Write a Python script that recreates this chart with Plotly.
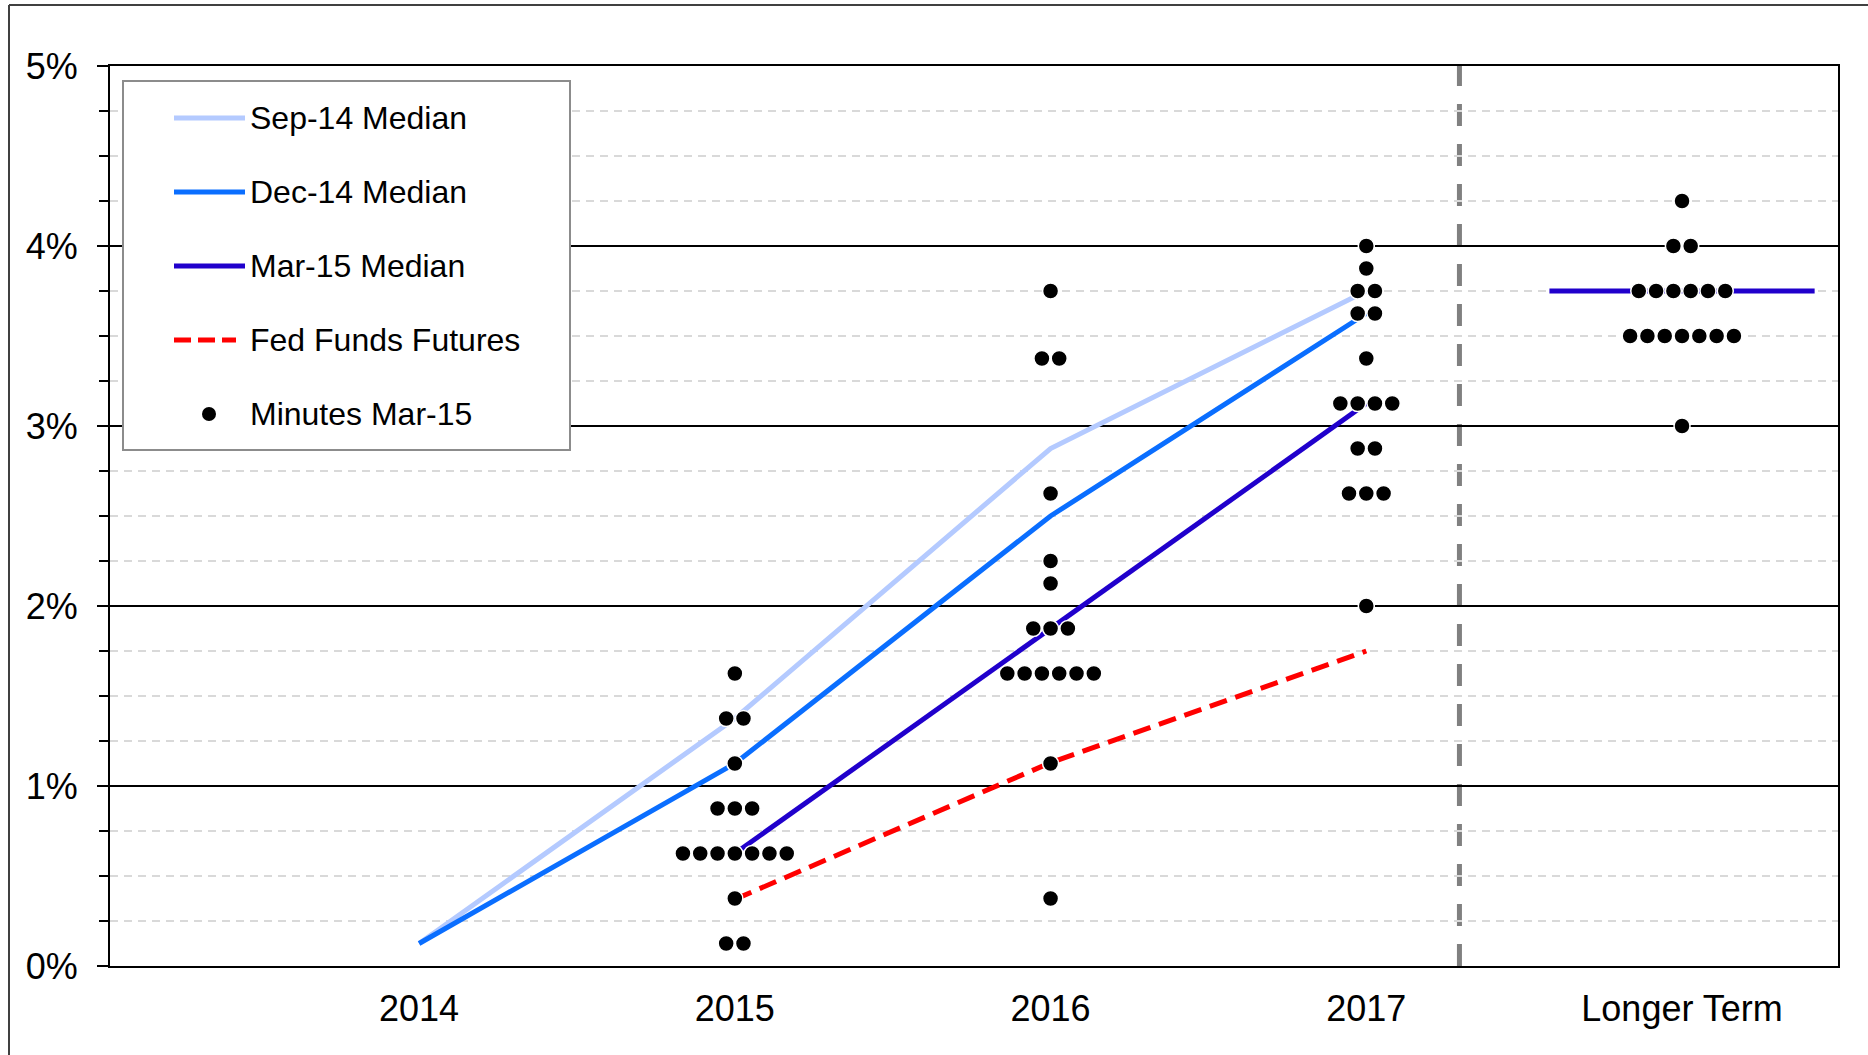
import plotly.graph_objects as go

# ---------------- data ----------------
categories = ["2014", "2015", "2016", "2017", "Longer Term"]

sep14_median = [0.125, 1.375, 2.875, 3.75]          # 2014..2017
dec14_median = [0.125, 1.125, 2.5, 3.625]           # 2014..2017
mar15_median = [0.625, 1.875, 3.125]                # 2015..2017
mar15_median_lt = 3.75                              # Longer Term
fed_funds_futures = [0.37, 1.13, 1.75]              # 2015..2017

# Dot plot (Minutes Mar-15): rate level -> number of participants
dots_2015 = {0.125: 2, 0.375: 1, 0.625: 7, 0.875: 3, 1.125: 1, 1.375: 2, 1.625: 1}
dots_2016 = {0.375: 1, 1.125: 1, 1.625: 6, 1.875: 3, 2.125: 1, 2.25: 1,
             2.625: 1, 3.375: 2, 3.75: 1}
dots_2017 = {2.0: 1, 2.625: 3, 2.875: 2, 3.125: 4, 3.375: 1, 3.625: 2,
             3.75: 2, 3.875: 1, 4.0: 1}
dots_lt = {3.0: 1, 3.5: 7, 3.75: 6, 4.0: 2, 4.25: 1}
dot_sets = [("2015", dots_2015), ("2016", dots_2016), ("2017", dots_2017),
            ("Longer Term", dots_lt)]

y_ticks = [0, 1, 2, 3, 4, 5]

# ---------------- layout constants ----------------
W, H = 1868, 1055
ML, MR, MT, MB = 110, 30, 66, 89
PW, PH = W - ML - MR, H - MT - MB
DOT_STEP = 0.0548        # horizontal spacing between stacked dots (category units)
LT_HALF = 0.42           # half-width of the longer-term median bar
DIVIDER_X = 3.295        # position of the dashed divider

FONT = "Arial, 'Liberation Sans', sans-serif"
C_SEP = "#B4CAFF"
C_DEC = "#0A6EFF"
C_MAR = "#2000CC"
C_RED = "#FF0000"


def px_x(p):
    return (p - ML) / PW


def px_y(p):
    return (H - MB - p) / PH


idx = {c: i for i, c in enumerate(categories)}

fig = go.Figure()

fig.add_trace(go.Scatter(x=[idx[c] for c in categories[:4]], y=sep14_median,
                         mode="lines", name="Sep-14 Median",
                         line=dict(color=C_SEP, width=5), showlegend=False))
fig.add_trace(go.Scatter(x=[idx[c] for c in categories[:4]], y=dec14_median,
                         mode="lines", name="Dec-14 Median",
                         line=dict(color=C_DEC, width=5), showlegend=False))
fig.add_trace(go.Scatter(x=[idx[c] for c in categories[1:4]], y=mar15_median,
                         mode="lines", name="Mar-15 Median",
                         line=dict(color=C_MAR, width=5), showlegend=False))
lt = idx["Longer Term"]
fig.add_trace(go.Scatter(x=[lt - LT_HALF, lt + LT_HALF],
                         y=[mar15_median_lt, mar15_median_lt],
                         mode="lines", name="Mar-15 Median",
                         line=dict(color=C_MAR, width=5), showlegend=False))
fig.add_trace(go.Scatter(x=[idx[c] for c in categories[1:4]], y=fed_funds_futures,
                         mode="lines", name="Fed Funds Futures",
                         line=dict(color=C_RED, width=5, dash="18px,9px"),
                         showlegend=False))

dx, dy = [], []
for cat, d in dot_sets:
    for level, n in d.items():
        for i in range(n):
            dx.append(idx[cat] + (i - (n - 1) / 2) * DOT_STEP)
            dy.append(level)
fig.add_trace(go.Scatter(x=dx, y=dy, mode="markers", name="Minutes Mar-15",
                         marker=dict(color="black", size=16,
                                     line=dict(color="white", width=1.5)),
                         showlegend=False))

shapes = []
# dashed divider between 2017 and Longer Term
shapes.append(dict(type="line", xref="x", yref="paper", x0=DIVIDER_X, x1=DIVIDER_X,
                   y0=0, y1=1, layer="between",
                   line=dict(color="#808080", width=5, dash="22px,18px")))
# outer frame (left and top edges)
shapes.append(dict(type="line", xref="paper", yref="paper",
                   x0=px_x(9), x1=px_x(9), y0=px_y(5), y1=px_y(H + 5),
                   line=dict(color="#404040", width=2)))
shapes.append(dict(type="line", xref="paper", yref="paper",
                   x0=px_x(9), x1=px_x(W + 5), y0=px_y(5), y1=px_y(5),
                   line=dict(color="#404040", width=2)))

# manual legend
shapes.append(dict(type="rect", xref="paper", yref="paper", layer="above",
                   x0=px_x(123), x1=px_x(570), y0=px_y(450), y1=px_y(81),
                   fillcolor="white", line=dict(color="#8C8C8C", width=2)))
legend_items = [("Sep-14 Median", C_SEP, "solid"),
                ("Dec-14 Median", C_DEC, "solid"),
                ("Mar-15 Median", C_MAR, "solid"),
                ("Fed Funds Futures", C_RED, "17px,7px"),
                ("Minutes Mar-15", None, None)]
annotations = []
for k, (label, col, dash) in enumerate(legend_items):
    yc = 118 + 74 * k
    if col is not None:
        x_end = 245 if dash == "solid" else 236
        shapes.append(dict(type="line", xref="paper", yref="paper", layer="above",
                           x0=px_x(174), x1=px_x(x_end), y0=px_y(yc), y1=px_y(yc),
                           line=dict(color=col, width=5, dash=dash)))
    else:
        shapes.append(dict(type="circle", xref="paper", yref="paper", layer="above",
                           x0=px_x(202), x1=px_x(216), y0=px_y(yc + 7), y1=px_y(yc - 7),
                           fillcolor="black", line=dict(color="black", width=0)))
    annotations.append(dict(xref="paper", yref="paper", x=px_x(248), y=px_y(yc),
                            xanchor="left", yanchor="middle", showarrow=False,
                            text=label, font=dict(family=FONT, size=32, color="black")))

fig.update_layout(
    width=W, height=H,
    margin=dict(l=ML, r=MR, t=MT, b=MB, pad=0),
    paper_bgcolor="white", plot_bgcolor="white",
    font=dict(family=FONT, color="black"),
    showlegend=False,
    shapes=shapes,
    annotations=annotations,
    xaxis=dict(range=[-0.979, 4.494], tickvals=list(range(len(categories))),
               ticktext=categories, showgrid=False, zeroline=False,
               showline=True, linecolor="black", linewidth=2, mirror=True,
               ticks="", ticklabelstandoff=10,
               tickfont=dict(family=FONT, size=36, color="black")),
    yaxis=dict(range=[0, 5], tickvals=y_ticks, ticktext=[f"{v}%" for v in y_ticks],
               showgrid=True, gridcolor="black", gridwidth=2, zeroline=False,
               showline=True, linecolor="black", linewidth=2, mirror=True,
               ticks="outside", ticklen=11, tickwidth=2, tickcolor="black",
               ticklabelstandoff=12,
               tickfont=dict(family=FONT, size=36, color="black"),
               minor=dict(dtick=0.25, showgrid=True, gridcolor="#D9D9D9",
                          gridwidth=2, griddash="8px,6px", ticks="outside",
                          ticklen=9, tickwidth=2, tickcolor="black")),
)

fig.write_html("out.html", config={"displayModeBar": False},
               post_script="document.body.style.margin='0';document.body.style.overflow='hidden';")
